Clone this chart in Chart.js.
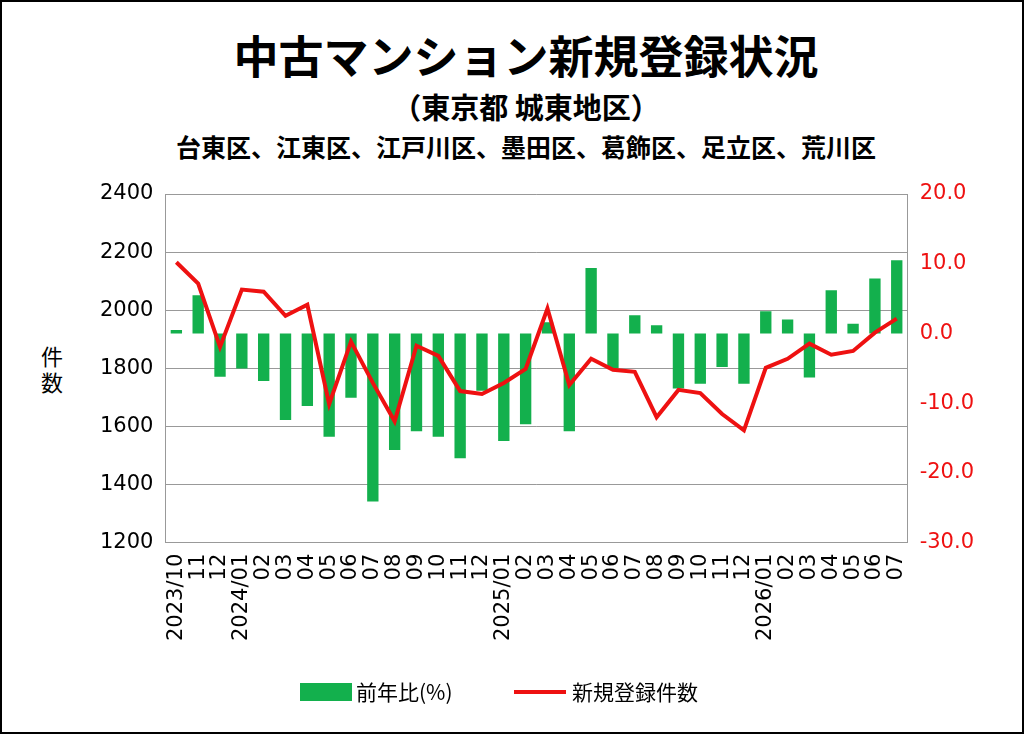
<!DOCTYPE html>
<html>
<head>
<meta charset="utf-8">
<script src="https://cdn.jsdelivr.net/npm/chart.js@4/dist/chart.umd.min.js"></script>
<style>
  html, body { margin: 0; padding: 0; background: #fff; }
  #wrap { position: relative; width: 1024px; height: 734px; box-sizing: border-box; border: 2px solid #000; font-family: "Noto Sans CJK JP", sans-serif; }
  .t { position: absolute; left: 0; width: 100%; text-align: center; font-weight: bold; color: #000; line-height: 1; }
  #yt { position: absolute; left: 38px; top: 340px; font-size: 22px; line-height: 26px; width: 24px; text-align: center; }
  canvas { position: absolute; left: 0; top: 0; }
</style>
</head>
<body>
<div id="wrap">
  <div class="t" style="top:30px;font-size:45px;left:14px;">中古マンション新規登録状況</div>
  <div class="t" style="top:90px;font-size:29px;left:14px;">（東京都 城東地区）</div>
  <div class="t" style="top:132px;font-size:25px;left:14px;">台東区、江東区、江戸川区、墨田区、葛飾区、足立区、荒川区</div>
  <div id="yt">件<br>数</div>
  <canvas id="c" width="1020" height="730"></canvas>
</div>
<script>
// months shown on the x axis
var labels = ['2023/10','11','12','2024/01','02','03','04','05','06','07','08','09','10','11','12',
  '2025/01','02','03','04','05','06','07','08','09','10','11','12',
  '2026/01','02','03','04','05','06','07'];
// 前年比 (%) - right axis
var yoy = [0.5, 5.5, -6.2, -5.0, -6.8, -12.4, -10.4, -14.8, -9.2, -24.1, -16.7, -14.0, -14.8, -17.9, -8.2,
  -15.4, -13.0, 1.6, -14.0, 9.4, -5.0, 2.6, 1.2, -7.9, -7.2, -4.8, -7.2,
  3.2, 2.0, -6.3, 6.2, 1.4, 7.9, 10.5];
// 新規登録件数 - left axis
var listings = [2165, 2092, 1874, 2071, 2064, 1981, 2019, 1677, 1892, 1750, 1618, 1878, 1843, 1722, 1712,
  1750, 1798, 2006, 1743, 1833, 1795, 1788, 1632, 1726, 1715, 1643, 1587,
  1802, 1833, 1885, 1847, 1860, 1923, 1971];

var GREEN = '#13b04d';
var RED = '#ee1111';
var TICK_FONT = { size: 21, family: 'DejaVu Sans' };

// simple legend drawn under the plot
var bottomLegend = {
	id: 'bottomLegend',
	afterDraw: function (chart) {
		var ctx = chart.ctx;
		var y = 690;
		ctx.save();
		ctx.font = '21px "Noto Sans CJK JP"';
		ctx.textBaseline = 'middle';
		ctx.fillStyle = GREEN;
		ctx.fillRect(298, y - 9, 52, 18);
		ctx.fillStyle = '#000';
		ctx.fillText('前年比(%)', 354, y);
		ctx.strokeStyle = RED;
		ctx.lineWidth = 4;
		ctx.beginPath();
		ctx.moveTo(512, y);
		ctx.lineTo(564, y);
		ctx.stroke();
		ctx.fillText('新規登録件数', 570, y);
		ctx.restore();
	}
};

new Chart(document.getElementById('c'), {
	data: {
		labels: labels,
		datasets: [
			{
				type: 'line',
				label: '新規登録件数',
				data: listings,
				yAxisID: 'y',
				borderColor: RED,
				borderWidth: 4,
				pointRadius: 0,
				tension: 0,
				order: 0
			},
			{
				type: 'bar',
				label: '前年比(%)',
				data: yoy,
				yAxisID: 'y1',
				backgroundColor: GREEN,
				barPercentage: 0.52,
				categoryPercentage: 1,
				order: 1
			}
		]
	},
	options: {
		responsive: false,
		animation: false,
		layout: { padding: { top: 192, left: 86, right: 36, bottom: 88 } },
		plugins: { legend: { display: false }, tooltip: { enabled: false } },
		scales: {
			x: {
				grid: { display: false },
				border: { color: '#999' },
				ticks: { color: '#000', font: TICK_FONT, maxRotation: 90, minRotation: 90, autoSkip: false }
			},
			y: {
				position: 'left',
				min: 1200, max: 2400,
				ticks: { stepSize: 200, color: '#000', font: TICK_FONT, padding: 12,
					callback: function (v) { return String(v); } },
				grid: { color: '#999', drawTicks: false },
				border: { color: '#999' }
			},
			y1: {
				position: 'right',
				min: -30, max: 20,
				ticks: {
					stepSize: 10, color: RED, font: TICK_FONT, padding: 12,
					callback: function (v) { return v.toFixed(1); }
				},
				grid: { display: false, drawTicks: false },
				border: { color: '#999' }
			}
		}
	},
	plugins: [bottomLegend]
});
</script>
</body>
</html>
